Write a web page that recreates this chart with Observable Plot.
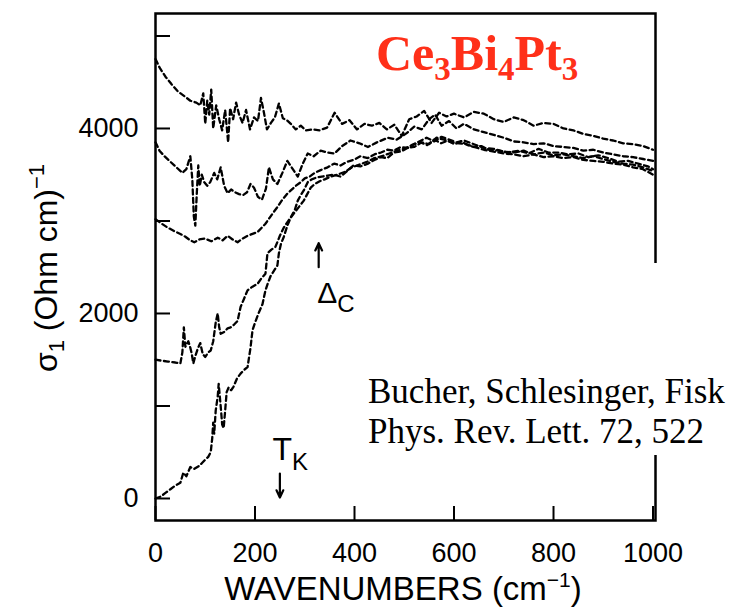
<!DOCTYPE html>
<html>
<head>
<meta charset="utf-8">
<script src="https://cdn.jsdelivr.net/npm/d3@7"></script>
<script src="https://cdn.jsdelivr.net/npm/@observablehq/plot@0.6"></script>
<style>
  html, body { margin: 0; padding: 0; background: #fff; }
  #chart { position: relative; width: 740px; height: 613px; overflow: hidden; }
</style>
</head>
<body>
<div id="chart"></div>
<script>
// Optical conductivity sigma_1 of Ce3Bi4Pt3 vs wavenumber, one trace per temperature
// (highest temperature on top, lowest at the bottom). Pairs are [wavenumber cm^-1, sigma_1 (Ohm cm)^-1].
const trace1 = [[0,4750],[8,4660],[20,4560],[32,4480],[45,4400],[58,4350],[70,4300],[82,4280],[90,4250],[96,4380],[100,4050],[104,4300],[108,4150],[112,4420],[116,4000],[122,4250],[128,4100],[134,3980],[140,4200],[146,3850],[150,4220],[156,4100],[162,4280],[168,4150],[175,4060],[182,4200],[190,3990],[198,4120],[206,4080],[212,4330],[218,4170],[224,3990],[232,4060],[240,4120],[248,4270],[256,4110],[264,4090],[272,4050],[282,3990],[292,4030],[302,3980],[315,3990],[330,3980],[345,4010],[360,4170],[375,4050],[390,4090],[405,3990],[420,4050],[435,4030],[450,4060],[465,3990],[480,4040],[495,3920],[510,4100],[525,4130],[540,4190],[555,4060],[570,4170],[585,4130],[600,4160],[620,4120],[640,4180],[660,4160],[680,4100],[700,4070],[720,4120],[740,4090],[760,4030],[780,4060],[800,4050],[820,4000],[840,3980],[860,3940],[880,3920],[900,3890],[920,3870],[940,3840],[960,3830],[980,3810],[1000,3770]];

const trace2 = [[0,3850],[8,3760],[18,3700],[30,3640],[42,3580],[54,3520],[62,3560],[70,3700],[74,3450],[77,3050],[80,2950],[83,3300],[86,3600],[89,3380],[93,3500],[98,3420],[104,3380],[110,3420],[118,3520],[124,3450],[131,3580],[138,3380],[145,3300],[152,3340],[160,3310],[168,3290],[176,3280],[184,3310],[191,3400],[198,3360],[206,3260],[214,3230],[222,3350],[228,3580],[236,3450],[245,3400],[255,3520],[265,3650],[276,3560],[286,3480],[296,3620],[306,3730],[318,3700],[332,3760],[346,3740],[360,3730],[375,3810],[392,3870],[410,3840],[427,3800],[445,3850],[467,3900],[485,3880],[505,3950],[520,4020],[535,3990],[550,4100],[562,4150],[575,4030],[590,4080],[605,4000],[620,4050],[640,3990],[660,3960],[680,3930],[700,3900],[720,3860],[740,3850],[760,3830],[780,3840],[800,3810],[820,3800],[840,3790],[860,3760],[880,3770],[900,3740],[920,3720],[940,3700],[960,3690],[980,3670],[1000,3650]];

const trace3 = [[0,3020],[10,2980],[24,2930],[38,2890],[50,2860],[60,2830],[70,2790],[78,2770],[88,2800],[100,2810],[112,2780],[125,2820],[135,2790],[145,2840],[155,2800],[165,2770],[175,2810],[185,2840],[195,2860],[205,2880],[214,2930],[221,2970],[230,3040],[238,3100],[245,3150],[255,3230],[264,3290],[272,3330],[282,3380],[292,3420],[300,3460],[310,3480],[320,3520],[332,3550],[346,3580],[359,3620],[372,3600],[385,3640],[398,3660],[412,3700],[427,3680],[440,3720],[453,3740],[466,3770],[479,3760],[493,3800],[507,3790],[520,3830],[533,3850],[546,3820],[560,3880],[574,3840],[588,3870],[601,3830],[614,3860],[628,3820],[640,3800],[655,3810],[670,3770],[690,3760],[710,3740],[730,3760],[750,3730],[770,3780],[790,3740],[810,3740],[830,3720],[850,3730],[870,3690],[890,3710],[910,3680],[930,3640],[950,3650],[970,3620],[990,3590],[1000,3560]];

const trace4 = [[0,1500],[12,1490],[25,1480],[40,1470],[50,1460],[54,1580],[57,1850],[60,1640],[66,1700],[70,1630],[73,1560],[76,1460],[80,1540],[85,1620],[90,1680],[95,1560],[100,1530],[106,1580],[111,1600],[116,1700],[121,1900],[125,2000],[128,1850],[131,1780],[138,1800],[145,1840],[151,1850],[158,1880],[165,1920],[171,2070],[178,2160],[185,2250],[195,2290],[205,2320],[213,2380],[221,2430],[225,2650],[233,2690],[241,2720],[250,2840],[258,2930],[268,3010],[278,3080],[288,3150],[298,3220],[305,3290],[312,3360],[320,3400],[330,3430],[340,3450],[352,3480],[365,3500],[380,3530],[395,3580],[410,3610],[425,3640],[440,3680],[455,3700],[470,3730],[485,3760],[500,3780],[515,3820],[530,3860],[545,3900],[560,3860],[575,3910],[590,3880],[605,3850],[620,3870],[640,3830],[660,3790],[680,3780],[700,3750],[720,3740],[740,3760],[760,3720],[780,3740],[800,3710],[820,3720],[840,3700],[860,3680],[880,3700],[900,3670],[920,3640],[940,3620],[960,3610],[980,3580],[1000,3540]];

const trace5 = [[0,0],[10,20],[20,60],[30,100],[40,140],[50,170],[56,280],[62,240],[70,340],[78,320],[87,350],[93,380],[100,420],[106,450],[111,500],[114,650],[116,820],[118,700],[121,950],[125,1100],[127,1240],[131,1000],[134,800],[137,760],[140,950],[143,1150],[147,1200],[152,1170],[157,1210],[164,1300],[171,1350],[178,1390],[185,1420],[191,1630],[195,1820],[200,1900],[207,2000],[215,2100],[221,2250],[226,2330],[231,2400],[238,2460],[245,2520],[248,2650],[252,2750],[258,2830],[265,2950],[272,3040],[280,3120],[286,3220],[292,3280],[298,3330],[306,3420],[314,3450],[324,3470],[334,3480],[346,3490],[358,3500],[372,3480],[385,3540],[398,3600],[412,3590],[427,3620],[440,3660],[453,3690],[466,3680],[479,3740],[493,3750],[507,3790],[520,3800],[535,3850],[550,3830],[565,3900],[580,3880],[595,3850],[610,3840],[625,3830],[640,3800],[660,3770],[680,3750],[700,3730],[720,3720],[740,3700],[760,3720],[780,3690],[800,3700],[820,3680],[840,3690],[860,3660],[880,3650],[900,3640],[920,3620],[940,3610],[960,3580],[980,3560],[1000,3500]];

const traces = [trace1, trace2, trace3, trace4, trace5];

// Axis ticks
const xTicks = [0, 200, 400, 600, 800, 1000];
const yTicks = [0, 1000, 2000, 3000, 4000, 5000];
const yTickLabels = [0, 2000, 4000];

// Annotations: Kondo temperature and gap energy, in cm^-1
const kondoMark = [{wn: 250, from: 270, to: 10}];
const gapMark = [{wn: 328, from: 2500, to: 2760}];

const rows = traces.flatMap((t, i) => t.map(([wn, s]) => ({wn, s, trace: i})));

const sans = "'Liberation Sans', Arial, Helvetica, sans-serif";
const serif = "'Liberation Serif', 'Times New Roman', Times, serif";

const chart = Plot.plot({
  width: 740,
  height: 613,
  marginLeft: 155,
  marginRight: 85,
  marginTop: 13,
  marginBottom: 93,
  x: {domain: [0, 1005], axis: null},
  y: {domain: [-238, 5243], axis: null},
  style: {fontFamily: sans, fontSize: "27px", color: "#000", background: "#fff"},
  marks: [
    // inward tick marks
    Plot.tickY(yTicks, {y: d => d, stroke: "#000", strokeWidth: 2, insetRight: 485}),
    Plot.tickX(xTicks, {x: d => d, stroke: "#000", strokeWidth: 2, insetTop: 493}),
    Plot.axisY(yTickLabels, {anchor: "left", tickSize: 0, tickPadding: 17, tickFormat: d => String(d), label: null, fontSize: 27}),
    Plot.axisX(xTicks, {anchor: "bottom", tickSize: 0, tickPadding: 22, tickFormat: d => String(d), label: null, fontSize: 27}),
    Plot.line(rows, {x: "wn", y: "s", z: "trace", stroke: "#000", strokeWidth: 2.3, strokeDasharray: "5,3.5", curve: "linear"}),
    Plot.arrow(kondoMark, {x1: "wn", x2: "wn", y1: "from", y2: "to", stroke: "#000", strokeWidth: 2.2, headLength: 9, headAngle: 50}),
    Plot.arrow(gapMark, {x1: "wn", x2: "wn", y1: "from", y2: "to", stroke: "#000", strokeWidth: 2.2, headLength: 9, headAngle: 50}),
    Plot.frame({stroke: "#000", strokeWidth: 2.5})
  ]
});

document.getElementById("chart").appendChild(chart);

const xs = chart.scale("x");
const ys = chart.scale("y");
const svg = d3.select(chart);

// y-axis title
const yTitle = svg.append("text")
  .attr("transform", "translate(57,268) rotate(-90)")
  .attr("text-anchor", "middle")
  .attr("font-family", sans)
  .attr("font-size", 32)
  .attr("fill", "#000");
yTitle.append("tspan").text("σ");
yTitle.append("tspan").attr("font-size", 22).attr("dy", 7).text("1");
yTitle.append("tspan").attr("dy", -7).text(" (Ohm cm)");
yTitle.append("tspan").attr("font-size", 22).attr("dy", -13).text("−1");

// x-axis title
const xTitle = svg.append("text")
  .attr("x", 403).attr("y", 600)
  .attr("text-anchor", "middle")
  .attr("font-family", sans)
  .attr("font-size", 33)
  .attr("fill", "#000");
xTitle.append("tspan").text("WAVENUMBERS (cm");
xTitle.append("tspan").attr("font-size", 21).attr("dy", -13).text("−1");
xTitle.append("tspan").attr("dy", 13).text(")");

// T_K label above its arrow
const tk = kondoMark[0];
const tkText = svg.append("text")
  .attr("x", xs.apply(tk.wn) - 7)
  .attr("y", ys.apply(tk.from) - 13)
  .attr("text-anchor", "start")
  .attr("font-family", sans).attr("font-size", 32).attr("fill", "#000");
tkText.append("tspan").text("T");
tkText.append("tspan").attr("font-size", 24).attr("dy", 10).text("K");

// Delta_c label below its arrow
const gp = gapMark[0];
const gapText = svg.append("text")
  .attr("x", xs.apply(gp.wn) - 1)
  .attr("y", ys.apply(gp.from) + 36)
  .attr("text-anchor", "start")
  .attr("font-family", sans).attr("font-size", 30).attr("fill", "#000");
gapText.append("tspan").text("Δ");
gapText.append("tspan").attr("font-size", 24).attr("dy", 9).text("C");

// compound name
const title = svg.append("text")
  .attr("x", 376).attr("y", 70)
  .attr("text-anchor", "start")
  .attr("font-family", serif).attr("font-weight", "bold")
  .attr("font-size", 50).attr("fill", "#ff3019");
[["Ce", false], ["3", true], ["Bi", false], ["4", true], ["Pt", false], ["3", true]].forEach(([s, sub], i, arr) => {
  const prevSub = i > 0 && arr[i - 1][1];
  const t = title.append("tspan").text(s);
  if (sub) t.attr("font-size", 33).attr("dy", 10);
  else if (prevSub) t.attr("dy", -10);
});

// reference box
svg.append("rect").attr("x", 360).attr("y", 263).attr("width", 380).attr("height", 192).attr("fill", "#fff");
const cite = svg.append("g").attr("font-family", serif).attr("font-size", 35).attr("fill", "#000").attr("text-anchor", "start");
cite.append("text").attr("x", 368).attr("y", 403).text("Bucher, Schlesinger, Fisk");
cite.append("text").attr("x", 368).attr("y", 443).text("Phys. Rev. Lett. 72, 522");
</script>
</body>
</html>
